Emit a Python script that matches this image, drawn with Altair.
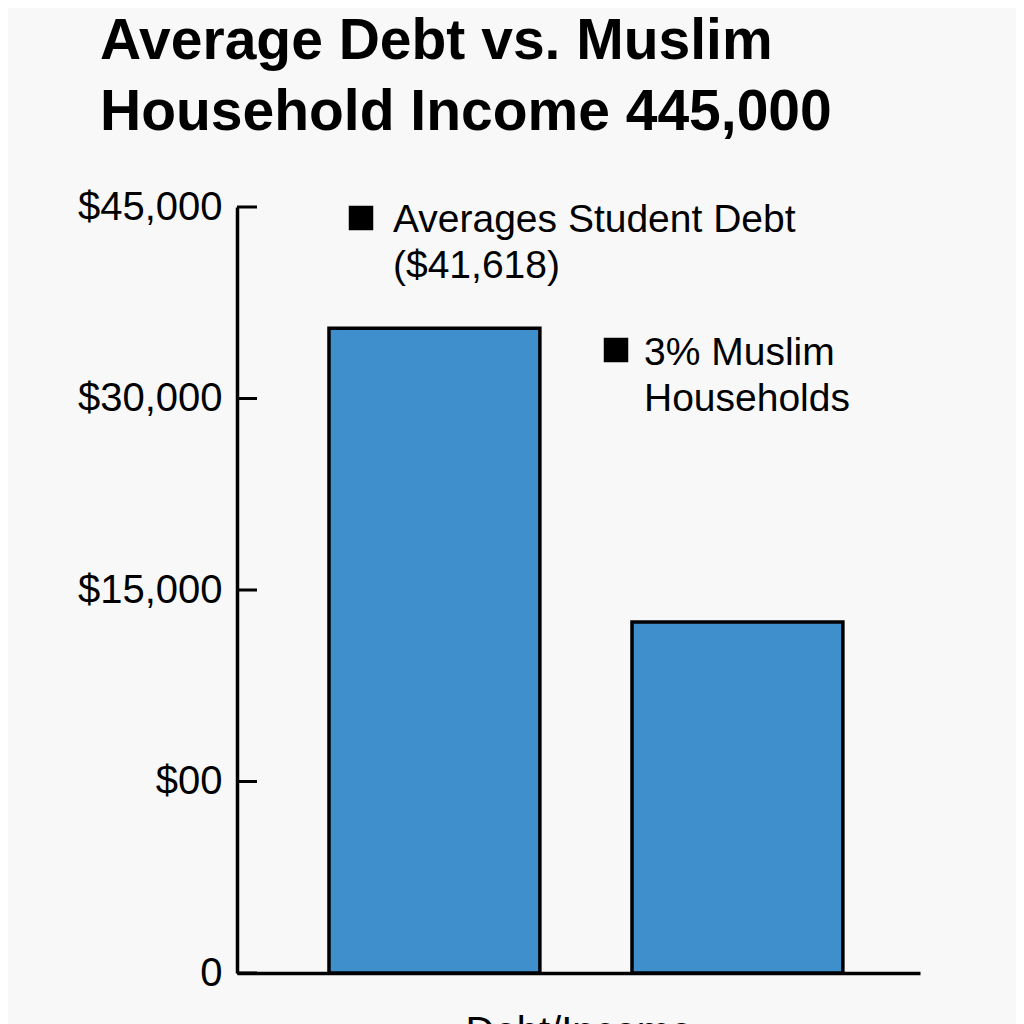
import altair as alt
import pandas as pd

categories = ["Averages Student Debt", "3% Muslim Households"]
values = [50500, 27500]
tick_values = [0, 15000, 30000, 45000, 60000]
tick_labels = ["0", "$00", "$15,000", "$30,000", "$45,000"]
legend_texts = [["Averages Student Debt", "($41,618)"], ["3% Muslim", "Households"]]
title_lines = ["Average Debt vs. Muslim", "Household Income 445,000"]
x_title = "Debt/Income"

FONT = "Liberation Sans"
BLUE = "#3e8fcb"

bars_df = pd.DataFrame({"cat": categories, "val": values})
ticks_df = pd.DataFrame({"v": tick_values})

label_expr = " : ".join(
    [f"datum.value == {v} ? '{l}'" for v, l in zip(tick_values, tick_labels)]
) + " : ''"

xscale = alt.Scale(domain=categories, paddingInner=0.304, paddingOuter=0.279, align=0.544)
yscale = alt.Scale(domain=[0, 60000], nice=False)

bars = alt.Chart(bars_df).mark_bar(
    color=BLUE, stroke="black", strokeWidth=3.5
).encode(
    x=alt.X("cat:N", scale=xscale, sort=categories,
            axis=alt.Axis(labels=False, ticks=False, title=x_title, titleFont=FONT,
                          titleFontSize=40, titleFontWeight="normal", titleColor="black",
                          titlePadding=39, domainColor="black", domainWidth=3.5)),
    y=alt.Y("val:Q", scale=yscale,
            axis=alt.Axis(values=tick_values, labelExpr=label_expr, ticks=False,
                          grid=False, title=None, labelFont=FONT, labelFontSize=40,
                          labelColor="black", labelPadding=15, domainColor="black",
                          domainWidth=3.5)),
)

tick_marks = alt.Chart(ticks_df).mark_rule(color="black", strokeWidth=3).encode(
    y=alt.Y("v:Q", scale=yscale),
    x=alt.value(0),
    x2=alt.value(20),
)

ann1_text = alt.Chart(pd.DataFrame({"t": [legend_texts[0]]})).mark_text(
    align="left", baseline="alphabetic", font=FONT, fontSize=39, lineHeight=46, color="black"
).encode(text="t", x=alt.value(156), y=alt.value(25))
ann1_sq = alt.Chart(pd.DataFrame({"k": [0]})).mark_point(
    shape="square", filled=True, color="black", size=600, opacity=1
).encode(x=alt.value(124), y=alt.value(11))
ann2_text = alt.Chart(pd.DataFrame({"t": [legend_texts[1]]})).mark_text(
    align="left", baseline="alphabetic", font=FONT, fontSize=39, lineHeight=46, color="black"
).encode(text="t", x=alt.value(407), y=alt.value(158))
ann2_sq = alt.Chart(pd.DataFrame({"k": [0]})).mark_point(
    shape="square", filled=True, color="black", size=600, opacity=1
).encode(x=alt.value(379), y=alt.value(143))

chart = alt.layer(bars, tick_marks, ann1_sq, ann1_text, ann2_sq, ann2_text).properties(
    width=683,
    height=766,
    autosize=alt.AutoSizeParams(type="none"),
    padding={"left": 229, "top": 199, "right": 96, "bottom": 80},
    background="#f8f8f8",
    title=alt.TitleParams(
        text=title_lines, anchor="start", frame="group", font=FONT, fontSize=57,
        fontWeight="bold", color="black", lineHeight=71, dx=-137, dy=-5, offset=40,
    ),
).configure_view(stroke=None)

chart.save("out.html", embed_options={"renderer": "svg", "actions": False})
